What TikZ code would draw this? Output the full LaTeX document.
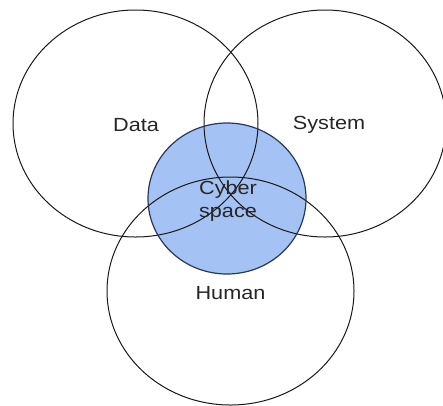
\documentclass[tikz,border=0pt]{standalone}
\usepackage{fontspec}
\setmainfont{Liberation Sans}
\definecolor{cyberfill}{RGB}{164,194,244}
\definecolor{cyberline}{RGB}{40,55,90}
\newcommand{\lbltext}[1]{\scalebox{1.14}[1]{#1}}
\begin{document}
\begin{tikzpicture}[x=1pt,y=-1pt,
  setring/.style={draw=black!90,line width=1pt},
  lbl/.style={font=\fontsize{19}{23}\selectfont,text=black!85,align=center,inner sep=0pt}]
\useasboundingbox (0,0) rectangle (443,405);
\fill[cyberfill] (227,198.5) ellipse [x radius=79, y radius=75.5];
\draw[setring] (135.5,123.5) ellipse [x radius=122.5, y radius=113.5];
\draw[setring] (325,123.5) ellipse [x radius=121, y radius=113.5];
\draw[setring] (230.5,291) ellipse [x radius=123.5, y radius=114];
\draw[cyberline,line width=1.2pt] (227,198.5) ellipse [x radius=79, y radius=75.5];
\node[lbl] (data) at (136,125) {\lbltext{Data}};
\node[lbl] (system) at (329,125) {\lbltext{System}};
\node[lbl] (human) at (230.5,293.5) {\lbltext{Human}};
\node[lbl] (cyber) at (228,201) {\lbltext{Cyber}\\\lbltext{space}};
\end{tikzpicture}
\end{document}
